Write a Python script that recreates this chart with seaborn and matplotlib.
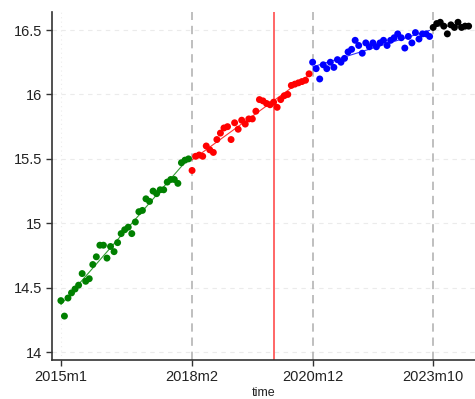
import numpy as np
import pandas as pd
import matplotlib
matplotlib.use("Agg")
import matplotlib.pyplot as plt
import seaborn as sns

# ==========================================================
# DATA (monthly series)
# ==========================================================

green_vals = [14.40, 14.28, 14.42, 14.46, 14.49, 14.52, 14.61, 14.55, 14.57, 14.68,
              14.74, 14.83, 14.83, 14.73, 14.82, 14.78, 14.85, 14.92, 14.95, 14.97,
              14.92, 15.01, 15.09, 15.10, 15.19, 15.17, 15.25, 15.23, 15.26, 15.26,
              15.32, 15.34, 15.34, 15.31, 15.47, 15.49, 15.50]

red_vals = [15.41, 15.52, 15.53, 15.52, 15.60, 15.57, 15.55, 15.65, 15.70, 15.74,
            15.75, 15.65, 15.78, 15.73, 15.80, 15.77, 15.81, 15.81, 15.87, 15.96,
            15.95, 15.93, 15.92, 15.94, 15.90, 15.96, 15.99, 16.00, 16.07, 16.08,
            16.09, 16.10, 16.11, 16.16]

blue_vals = [16.25, 16.20, 16.12, 16.23, 16.20, 16.25, 16.21, 16.27, 16.25, 16.28,
             16.33, 16.35, 16.42, 16.38, 16.32, 16.40, 16.37, 16.40, 16.37, 16.40,
             16.42, 16.38, 16.42, 16.44, 16.47, 16.44, 16.36, 16.45, 16.40, 16.48,
             16.43, 16.47, 16.47, 16.45]

black_vals = [16.52, 16.55, 16.56, 16.53, 16.47, 16.54, 16.52, 16.56, 16.52, 16.53,
              16.53]

seg_colors = ["#008000", "#ff0000", "#0000ff", "#000000"]

tick_pos = [0, 37, 71, 105]
tick_labels = ["2015m1", "2018m2", "2020m12", "2023m10"]
break_pos = [37, 71, 105]
shock_pos = 60  # 2020m1

# ==========================================================
# BUILD FRAME
# ==========================================================

segments = [green_vals, red_vals, blue_vals, black_vals]
rows = []
t = 0
for k, vals in enumerate(segments):
    for v in vals:
        rows.append({"time": t, "value": v, "segment": k})
        t += 1
df = pd.DataFrame(rows)

# ==========================================================
# PLOT
# ==========================================================

sns.set_style("white")
plt.rcParams["font.family"] = ["Liberation Sans", "DejaVu Sans"]

fig = plt.figure(figsize=(4.75, 3.99), dpi=100)
ax = fig.add_axes([0.1095, 0.098, 0.8905, 0.872])

for y in [14, 14.5, 15, 15.5, 16, 16.5]:
    ax.axhline(y, color="#ebebeb", linestyle=(0, (4, 4)), linewidth=0.8, zorder=0)
ax.axvline(0, color="#ececec", linestyle=(0, (1, 3)), linewidth=0.8, zorder=0)

for p in break_pos:
    ax.axvline(p, color="#b4b4b4", linestyle=(0, (5, 3.5)), linewidth=1.2, zorder=1)
ax.axvline(shock_pos, color="#ff5a5a", linewidth=1.3, zorder=1)

for k in range(4):
    sub = df[df["segment"] == k]
    sns.regplot(
        data=sub,
        x="time",
        y="value",
        ax=ax,
        ci=None,
        color=seg_colors[k],
        scatter_kws={"s": 25, "edgecolor": "none", "alpha": 1, "zorder": 3},
        line_kws={"linewidth": 0.8, "zorder": 2, "alpha": 0.8},
    )

ax.set_xlim(-2.5, 116.8)
ax.set_ylim(13.94, 16.64)
ax.set_xticks(tick_pos)
ax.set_xticklabels(tick_labels)
ax.set_yticks([14, 14.5, 15, 15.5, 16, 16.5])
ax.set_yticklabels(["14", "14.5", "15", "15.5", "16", "16.5"])

ax.tick_params(axis="both", direction="out", length=4, width=1,
               color="#333333", labelsize=10.5, labelcolor="#222222",
               bottom=True, left=True)
ax.tick_params(axis="y", pad=3)
ax.tick_params(axis="x", pad=3)

for side in ["top", "right"]:
    ax.spines[side].set_visible(False)
for side in ["left", "bottom"]:
    ax.spines[side].set_color("#333333")
    ax.spines[side].set_linewidth(1.2)

ax.set_xlabel("time", fontsize=9, labelpad=2.5, color="#222222")
ax.set_ylabel("")

fig.savefig("out.png", dpi=100)
plt.close(fig)
